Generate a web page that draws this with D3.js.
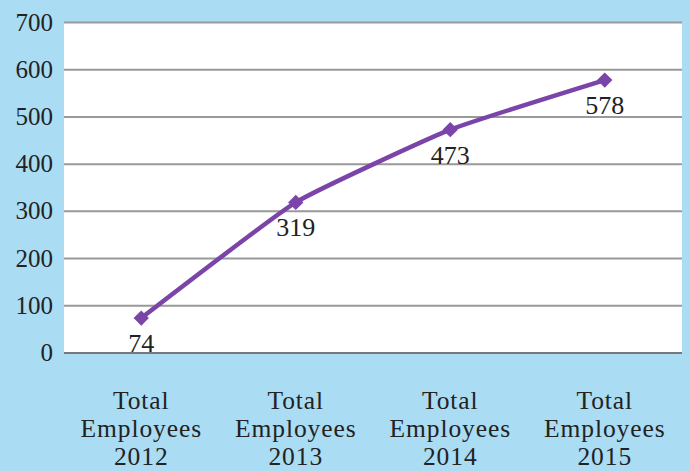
<!DOCTYPE html>
<html>
<head>
<meta charset="utf-8">
<script src="https://cdn.jsdelivr.net/npm/d3@7"></script>
<style>
body { margin: 0; background: #aadcf4; }
svg { display: block; font-family: "Liberation Serif", "DejaVu Serif", serif; }
</style>
</head>
<body>
<svg id="chart" width="690" height="471"></svg>
<script>
var categories = ['Total Employees 2012', 'Total Employees 2013', 'Total Employees 2014', 'Total Employees 2015'];
var values = [74, 319, 473, 578];
var yTicks = [0, 100, 200, 300, 400, 500, 600, 700];

var svg = d3.select('#chart');
var plotLeft = 64, plotRight = 682, plotTop = 22.5, plotBottom = 353;
var purple = '#7a44a8';

svg.append('rect')
	.attr('width', 690).attr('height', 471)
	.attr('fill', '#aadcf4');

svg.append('rect')
	.attr('x', plotLeft).attr('y', plotTop)
	.attr('width', plotRight - plotLeft).attr('height', plotBottom - plotTop)
	.attr('fill', '#ffffff');

var x = d3.scaleBand().domain(categories).range([plotLeft, plotRight]);
var y = d3.scaleLinear().domain([0, 700]).range([plotBottom, plotTop]);

// gridlines
svg.selectAll('line.grid')
	.data(yTicks)
	.enter().append('line')
	.attr('class', 'grid')
	.attr('x1', plotLeft).attr('x2', plotRight)
	.attr('y1', function(d){ return y(d); })
	.attr('y2', function(d){ return y(d); })
	.attr('stroke', function(d){ return d == 0 ? '#777' : '#999'; })
	.attr('stroke-width', 2);

// y tick labels
svg.selectAll('text.ytick')
	.data(yTicks)
	.enter().append('text')
	.attr('class', 'ytick')
	.attr('x', 53)
	.attr('y', function(d){ return y(d) + 8; })
	.attr('text-anchor', 'end')
	.attr('font-size', 25)
	.attr('fill', '#222')
	.text(function(d){ return d; });

// x labels, three lines each
svg.selectAll('text.xlab')
	.data(categories)
	.enter().append('text')
	.attr('class', 'xlab')
	.attr('text-anchor', 'middle')
	.attr('font-size', 25.5)
	.attr('letter-spacing', 0.9)
	.attr('fill', '#222')
	.each(function(d){
		var parts = ['Total', 'Employees', d.split(' ')[2]];
		var t = d3.select(this);
		var cx = x(d) + x.bandwidth() / 2;
		parts.forEach(function(p, i){
			t.append('tspan').attr('x', cx).attr('y', 409 + i * 28).text(p);
		});
	});

var cx = function(d, i){ return x(categories[i]) + x.bandwidth() / 2; };

var line = d3.line()
	.x(cx)
	.y(function(d){ return y(d); })
	.curve(d3.curveCardinal.tension(0.6));

svg.append('path')
	.datum(values)
	.attr('d', line)
	.attr('fill', 'none')
	.attr('stroke', purple)
	.attr('stroke-width', 4.5);

var diamond = d3.symbol().type(d3.symbolDiamond2).size(150);
svg.selectAll('path.marker')
	.data(values)
	.enter().append('path')
	.attr('class', 'marker')
	.attr('transform', function(d, i){ return 'translate(' + cx(d, i) + ',' + y(d) + ')'; })
	.attr('d', diamond)
	.attr('fill', purple);

svg.selectAll('text.vlab')
	.data(values)
	.enter().append('text')
	.attr('class', 'vlab')
	.attr('x', cx)
	.attr('y', function(d){ return y(d) + 34; })
	.attr('text-anchor', 'middle')
	.attr('font-size', 26)
	.attr('fill', '#222')
	.text(function(d){ return d; });
</script>
</body>
</html>
